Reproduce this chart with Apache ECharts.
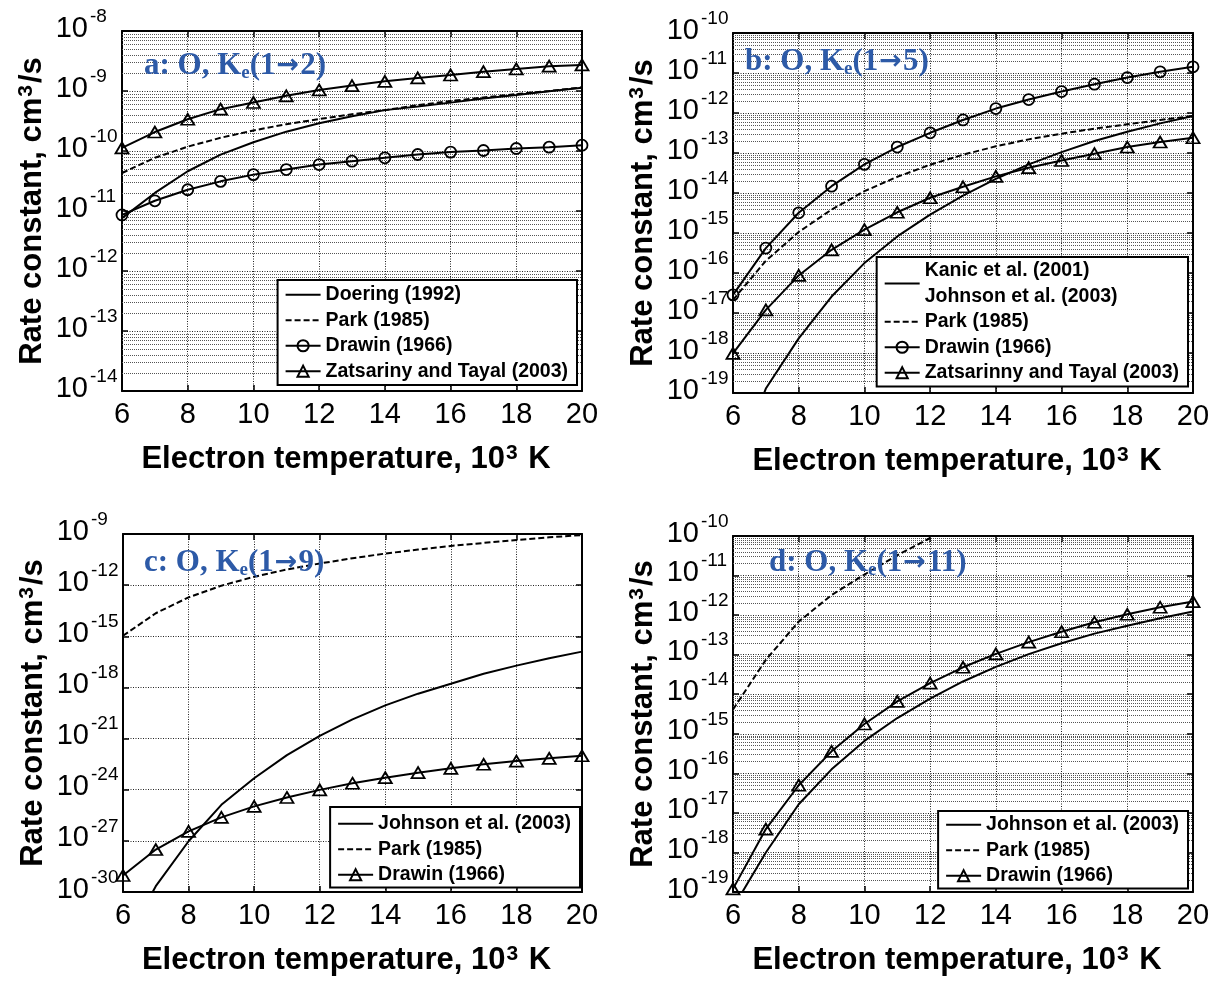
<!DOCTYPE html>
<html>
<head>
<meta charset="utf-8">
<title>O electron impact rate constants</title>
<script src="https://cdn.jsdelivr.net/npm/echarts@6/dist/echarts.min.js"></script>
<style>
    html, body { margin: 0; padding: 0; background: #fff; }
    #chart { width: 1221px; height: 981px; }
</style>
</head>
<body>
<div id="chart"></div>
<script>
// electron temperature, 10^3 K
var temps = [6, 7, 8, 9, 10, 11, 12, 13, 14, 15, 16, 17, 18, 19, 20];

// a: O, Ke(1->2), cm^3/s
var aDoering    = [7.6e-12, 2.0e-11, 4.6e-11, 8.7e-11, 1.4e-10, 2.1e-10, 2.9e-10, 3.8e-10, 4.8e-10, 5.5e-10, 6.4e-10, 7.5e-10, 8.6e-10, 9.9e-10, 1.13e-9];
var aPark       = [4.3e-11, 7.7e-11, 1.18e-10, 1.66e-10, 2.2e-10, 2.8e-10, 3.4e-10, 4.1e-10, 4.8e-10, 5.8e-10, 6.8e-10, 7.8e-10, 8.9e-10, 1.0e-9, 1.15e-9];
var aDrawin     = [8.6e-12, 1.48e-11, 2.26e-11, 3.12e-11, 4.04e-11, 4.9e-11, 5.94e-11, 6.76e-11, 7.69e-11, 8.75e-11, 9.58e-11, 1.02e-10, 1.1e-10, 1.16e-10, 1.25e-10];
var aZatsarinny = [1.13e-10, 2.07e-10, 3.38e-10, 4.98e-10, 6.44e-10, 8.3e-10, 1.04e-9, 1.23e-9, 1.45e-9, 1.65e-9, 1.85e-9, 2.1e-9, 2.33e-9, 2.59e-9, 2.72e-9];

// b: O, Ke(1->5)
var bKanic      = [1e-21, 1.29e-19, 2.32e-18, 2.58e-17, 1.77e-16, 8.2e-16, 2.88e-15, 8.6e-15, 2.26e-14, 5.2e-14, 1.05e-13, 2.0e-13, 3.4e-13, 5.5e-13, 8.4e-13];
var bPark       = [2.13e-17, 2.02e-16, 1.06e-15, 3.85e-15, 1.11e-14, 2.54e-14, 5.08e-14, 9.05e-14, 1.47e-13, 2.19e-13, 3.04e-13, 4.06e-13, 5.21e-13, 6.7e-13, 8.44e-13];
var bDrawin     = [2.84e-17, 4.2e-16, 3.2e-15, 1.48e-14, 5.2e-14, 1.41e-13, 3.2e-13, 6.7e-13, 1.29e-12, 2.17e-12, 3.44e-12, 5.25e-12, 7.7e-12, 1.07e-11, 1.43e-11];
var bZatsarinny = [9.8e-19, 1.2e-17, 8.7e-17, 3.8e-16, 1.21e-15, 3.3e-15, 7.6e-15, 1.43e-14, 2.6e-14, 4.3e-14, 6.5e-14, 9.6e-14, 1.41e-13, 1.88e-13, 2.41e-13];

// c: O, Ke(1->9)
var cJohnson    = [6e-34, 2.2e-30, 9.5e-28, 1.3e-25, 4.7e-24, 1.07e-22, 1.44e-21, 1.35e-20, 8.9e-20, 4.3e-19, 1.63e-18, 6.3e-18, 1.9e-17, 5.1e-17, 1.26e-16];
var cPark       = [1.07e-15, 2.25e-14, 1.93e-13, 9.3e-13, 3.1e-12, 8.3e-12, 1.86e-11, 3.81e-11, 7.13e-11, 1.22e-10, 2.0e-10, 2.99e-10, 4.47e-10, 6.4e-10, 8.7e-10];
var cDrawin     = [9.3e-30, 3.1e-28, 3.6e-27, 2.4e-26, 1.05e-25, 3.5e-25, 9.8e-25, 2.4e-24, 5.1e-24, 1.0e-23, 1.8e-23, 3.1e-23, 4.8e-23, 6.9e-23, 9.8e-23];

// d: O, Ke(1->11)
var dJohnson    = [4e-20, 1e-18, 1.65e-17, 1.26e-16, 6.6e-16, 2.5e-15, 7.7e-15, 2.1e-14, 4.9e-14, 1.03e-13, 1.95e-13, 3.4e-13, 5.4e-13, 8.3e-13, 1.23e-12];
var dPark       = [4.1e-15, 7.4e-14, 6.85e-13, 3.21e-12, 1.06e-11, 3.26e-11, 8.9e-11, null, null, null, null, null, null, null, null];
var dDrawin     = [1.2e-19, 3.9e-18, 5e-17, 3.6e-16, 1.77e-15, 6.6e-15, 1.9e-14, 4.8e-14, 1.05e-13, 2.07e-13, 3.8e-13, 6.6e-13, 1.05e-12, 1.58e-12, 2.2e-12];

// decade ranges of the y axes (exponents)
var aRange = [-14, -8], bRange = [-19, -10], cRange = [-30, -9], dRange = [-19, -10];

var FONT = 'Liberation Sans, Arial, Helvetica, sans-serif';
var SERIF = 'Liberation Serif, Times New Roman, serif';
var ZW = '\u200b'; // keeps same legend names apart between panels

var chart = echarts.init(document.getElementById('chart'));

function logData(values) {
    var out = [];
    for (var i = 0; i < temps.length; i++) {
        if (values[i] != null) out.push([temps[i], Math.log10(values[i])]);
    }
    return out;
}

function line(name, values, kind, idx) {
    var s = {
        name: name,
        type: 'line',
        xAxisIndex: 2 * idx,
        yAxisIndex: 2 * idx,
        data: logData(values),
        z: 3,
        symbol: 'none',
        lineStyle: {color: '#000', width: 2, type: kind === 'dashed' ? [6, 3] : 'solid'},
        itemStyle: {color: 'rgba(255,255,255,0)', borderColor: '#000', borderWidth: 0},
        emphasis: {disabled: true}
    };
    if (kind === 'circle') {
        s.symbol = 'circle';
        s.symbolSize = 11;
        s.itemStyle.borderWidth = 1.8;
    }
    if (kind === 'triangle') {
        s.symbol = 'triangle';
        s.symbolSize = [13, 11];
        s.itemStyle.borderWidth = 1.8;
    }
    return s;
}

// log minor grid (2..9 x 10^n), drawn as markLines on the y axis scale
function minorGrid(range, idx) {
    var vals = [];
    for (var n = range[0]; n < range[1]; n++) {
        for (var k = 2; k <= 9; k++) vals.push({yAxis: n + Math.log10(k)});
    }
    return {
        name: 'minor' + idx,
        type: 'line',
        xAxisIndex: 2 * idx,
        yAxisIndex: 2 * idx,
        data: [],
        silent: true,
        z: 1,
        markLine: {
            silent: true,
            z: 1,
            animation: false,
            symbol: ['none', 'none'],
            label: {show: false},
            emphasis: {disabled: true},
            lineStyle: {type: [1, 1], color: '#555', width: 1},
            data: vals
        }
    };
}

var panels = [
    {grid: {left: 122, top: 31, width: 460, height: 360}, range: aRange, step: 1, minor: true,
        label: 'a: O, K{s|e}(1{r|→}2)', labelPos: [144, 49],
        legend: {right: 644, top: 280, padding: [2, 9, 1, 7]}},
    {grid: {left: 733, top: 33, width: 460, height: 360}, range: bRange, step: 1, minor: true,
        label: 'b: O, K{s|e}(1{r|→}5)', labelPos: [745, 45],
        legend: {right: 33, top: 257, padding: [1, 9, 1, 7]}},
    {grid: {left: 123, top: 534, width: 459, height: 358}, range: cRange, step: 3, minor: false,
        label: 'c: O, K{s|e}(1{r|→}9)', labelPos: [144, 546],
        legend: {right: 641, top: 807, padding: [4, 9, 0, 7]}},
    {grid: {left: 733, top: 536, width: 460, height: 356}, range: dRange, step: 1, minor: true,
        label: 'd: O, K{s|e}(1{r|→}11)', labelPos: [769, 546],
        legend: {right: 33, top: 811, padding: [1, 9, 0, 7]}}
];

var seriesList = [
    [
        line('Doering (1992)', aDoering, 'solid', 0),
        line('Park (1985)', aPark, 'dashed', 0),
        line('Drawin (1966)', aDrawin, 'circle', 0),
        line('Zatsariny and Tayal (2003)', aZatsarinny, 'triangle', 0)
    ],
    [
        line('Kanic et al. (2001)\nJohnson et al. (2003)', bKanic, 'solid', 1),
        line('Park (1985)' + ZW, bPark, 'dashed', 1),
        line('Drawin (1966)' + ZW, bDrawin, 'circle', 1),
        line('Zatsarinny and Tayal (2003)', bZatsarinny, 'triangle', 1)
    ],
    [
        line('Johnson et al. (2003)', cJohnson, 'solid', 2),
        line('Park (1985)' + ZW + ZW, cPark, 'dashed', 2),
        line('Drawin (1966)' + ZW + ZW, cDrawin, 'triangle', 2)
    ],
    [
        line('Johnson et al. (2003)' + ZW, dJohnson, 'solid', 3),
        line('Park (1985)' + ZW + ZW + ZW, dPark, 'dashed', 3),
        line('Drawin (1966)' + ZW + ZW + ZW, dDrawin, 'triangle', 3)
    ]
];

var axisLine = {onZero: false, lineStyle: {color: '#000', width: 2}};
var tick = {inside: true, length: 6, lineStyle: {color: '#000', width: 1.5}};
var dotted = {show: true, lineStyle: {type: [1, 1.5], color: '#222', width: 1}};
var titleStyle = {
    fontFamily: FONT, fontSize: 31, fontWeight: 'bold', color: '#000', lineHeight: 33,
    rich: {s: {fontFamily: FONT, fontSize: 21, fontWeight: 'bold', color: '#000', lineHeight: 21, verticalAlign: 'top', padding: [0, 2, 0, 1]}}
};
var BLUE = '#2d5aa7';

var grids = [], xAxes = [], yAxes = [], series = [], legends = [], titles = [];

panels.forEach(function (p, i) {
    grids.push(p.grid);
    xAxes.push({
        type: 'value', gridIndex: i, min: 6, max: 20, interval: 2, position: 'bottom',
        axisLine: axisLine, axisTick: tick, splitLine: dotted,
        axisLabel: {margin: 9, fontSize: 29, color: '#000', fontFamily: FONT, showMinLabel: true, showMaxLabel: true},
        name: 'Electron temperature, 10{s|3} K', nameLocation: 'middle', nameGap: 52,
        nameTextStyle: Object.assign({padding: [0, 12, 0, 0]}, titleStyle)
    });
    xAxes.push({
        type: 'value', gridIndex: i, min: 6, max: 20, interval: 2, position: 'top',
        axisLine: axisLine, axisTick: tick, axisLabel: {show: false}, splitLine: {show: false}
    });
    yAxes.push({
        type: 'value', gridIndex: i, min: p.range[0], max: p.range[1], interval: p.step, position: 'left',
        axisLine: axisLine, axisTick: tick, splitLine: dotted,
        axisLabel: {
            margin: 2,
            verticalAlign: 'bottom',
            showMinLabel: true,
            showMaxLabel: true,
            hideOverlap: false,
            formatter: function (v) { return '{b|10}{e|' + v + '}'; },
            rich: {
                b: {fontFamily: FONT, fontSize: 29, lineHeight: 24, color: '#000', padding: [7, 0, 0, 0], verticalAlign: 'top', align: 'left'},
                e: {fontFamily: FONT, fontSize: 19, lineHeight: 24, color: '#000', padding: [0, 0, 0, 2], verticalAlign: 'top', width: 30, align: 'left'}
            }
        },
        name: 'Rate constant, cm{s|3}/s', nameLocation: 'middle', nameGap: 73,
        nameTextStyle: titleStyle
    });
    yAxes.push({
        type: 'value', gridIndex: i, min: p.range[0], max: p.range[1], interval: p.step, position: 'right',
        axisLine: axisLine, axisTick: tick, axisLabel: {show: false}, splitLine: {show: false}
    });

    if (p.minor) series.push(minorGrid(p.range, i));
    seriesList[i].forEach(function (s) { series.push(s); });

    legends.push({
        right: p.legend.right, top: p.legend.top, padding: p.legend.padding,
        orient: 'vertical', align: 'left', itemGap: 0, itemWidth: 35, itemHeight: 14,
        borderColor: '#000', borderWidth: 2, backgroundColor: '#fff', selectedMode: false, z: 10,
        textStyle: {fontFamily: FONT, fontSize: 19.5, fontWeight: 'bold', color: '#000', lineHeight: 25.5},
        data: seriesList[i].map(function (s) { return s.name; })
    });

    titles.push({
        text: p.label, left: p.labelPos[0], top: p.labelPos[1], padding: 0,
        textStyle: {
            fontFamily: SERIF, fontSize: 31, fontWeight: 'bold', color: BLUE, lineHeight: 33,
            rich: {
                s: {fontFamily: SERIF, fontSize: 19, fontWeight: 'bold', color: BLUE, lineHeight: 19, padding: [15, 0, 0, 0], verticalAlign: 'top'},
                r: {fontFamily: 'DejaVu Sans', fontSize: 27, fontWeight: 'bold', color: BLUE, lineHeight: 33, padding: [0, 1, 0, 1]}
            }
        }
    });
});

chart.setOption({
    animation: false,
    backgroundColor: '#fff',
    textStyle: {fontFamily: FONT},
    title: titles,
    legend: legends,
    grid: grids,
    xAxis: xAxes,
    yAxis: yAxes,
    series: series
});
</script>
</body>
</html>
